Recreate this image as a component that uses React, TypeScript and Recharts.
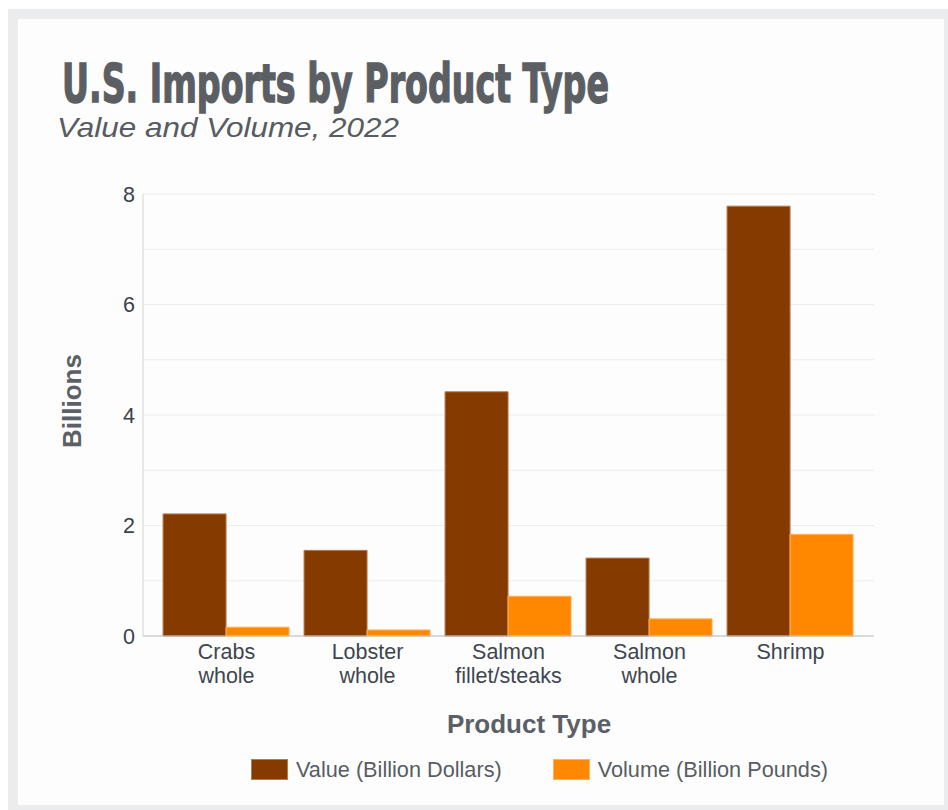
import React from 'react'
import {
  BarChart,
  Bar,
  XAxis,
  YAxis,
  CartesianGrid,
  Legend,
  Label,
} from 'recharts'

// product categories, in chart order
const categories = ['Crabs whole', 'Lobster whole', 'Salmon fillet/steaks', 'Salmon whole', 'Shrimp']
// value of imports, billion dollars
const valueBillions = [2.21, 1.55, 4.42, 1.41, 7.78]
// volume of imports, billion pounds
const volumeBillions = [0.16, 0.11, 0.72, 0.31, 1.84]
const yTicks = [0, 1, 2, 3, 4, 5, 6, 7, 8]

const seriesNames = ['Value (Billion Dollars)', 'Volume (Billion Pounds)']
const seriesColors = ['#853a00', '#ff8800']
const seriesStrokes = ['#b77a4f', '#ffb25e']

const data = categories.map((name, i) => ({
  name,
  value: valueBillions[i],
  volume: volumeBillions[i],
}))

const FONT = '"Liberation Sans", Arial, Helvetica, sans-serif'

// two-line category labels: first word, then the rest
const CategoryTick = ({ x, y, payload }: any) => {
  const words = String(payload.value).split(' ')
  const lines = words.length > 1 ? [words[0], words.slice(1).join(' ')] : words
  return (
    <text x={x} y={y} textAnchor="middle" fontFamily={FONT} fontSize={21.5} fill="#3d4650">
      {lines.map((line, i) => (
        <tspan key={i} x={x} dy={i === 0 ? 15 : 24}>
          {line}
        </tspan>
      ))}
    </text>
  )
}

const CustomLegend = ({ payload }: any) => (
  <div style={{ display: 'flex', alignItems: 'center', fontFamily: FONT, whiteSpace: 'nowrap' }}>
    {(payload || []).map((entry: any, i: number) => (
      <div
        key={`legend-${i}`}
        style={{ display: 'flex', alignItems: 'center', marginRight: i === 0 ? 51 : 0 }}
      >
        <div
          style={{
            width: 37,
            height: 21,
            backgroundColor: entry.color,
            boxSizing: 'border-box',
            border: `1px solid ${seriesStrokes[i]}`,
            marginRight: 8,
          }}
        />
        <span style={{ fontSize: 21.7, color: '#575d63', lineHeight: '21px' }}>{entry.value}</span>
      </div>
    ))}
  </div>
)

export default function App() {
  return (
    <div style={{ position: 'fixed', left: 0, top: 0, width: 948, height: 810, overflow: 'hidden', background: '#fff' }}>
      {/* card frame */}
      <div
        style={{
          position: 'absolute',
          left: 8,
          top: 9,
          width: 946,
          height: 806,
          border: '10px solid #ebecee',
          boxSizing: 'border-box',
          background: '#fdfdfd',
        }}
      />

      {/* title + subtitle */}
      <svg width={948} height={150} style={{ position: 'absolute', left: 0, top: 0 }}>
        <text
          x={62}
          y={102}
          fontFamily='"DejaVu Sans Condensed", "DejaVu Sans", sans-serif'
          fontWeight="bold"
          fontSize={53}
          fill="#5b5f64"
          stroke="#5b5f64"
          strokeWidth={1.4}
          textLength={547}
          lengthAdjust="spacingAndGlyphs"
        >
          U.S. Imports by Product Type
        </text>
        <text
          x={57}
          y={137}
          fontFamily={FONT}
          fontStyle="italic"
          fontSize={28}
          fill="#575c62"
          textLength={342}
          lengthAdjust="spacingAndGlyphs"
        >
          Value and Volume, 2022
        </text>
      </svg>

      <div style={{ position: 'absolute', left: 0, top: 0 }}>
        <BarChart
          width={948}
          height={810}
          data={data}
          margin={{ top: 194, right: 74, left: 0, bottom: 0 }}
          barCategoryGap="5%"
          barGap={0}
        >
          <CartesianGrid vertical={false} stroke="#ececec" />
          <XAxis
            dataKey="name"
            height={174}
            padding={{ left: 13, right: 13 }}
            tickLine={false}
            tickSize={0}
            tickMargin={8}
            axisLine={{ stroke: '#bdbdbd' }}
            tick={<CategoryTick />}
            interval={0}
          >
            <Label
              content={({ viewBox }: any) => (
                <text
                  x={viewBox.x + viewBox.width / 2 + 20.5}
                  y={viewBox.y + 97}
                  textAnchor="middle"
                  fontFamily={FONT}
                  fontWeight="bold"
                  fontSize={26}
                  fill="#5b6066"
                >
                  Product Type
                </text>
              )}
            />
          </XAxis>
          <YAxis
            width={143}
            domain={[0, 8]}
            ticks={yTicks}
            interval={0}
            tickFormatter={(v: number) => (v % 2 === 0 ? String(v) : '')}
            tickLine={false}
            tickSize={0}
            tickMargin={8}
            axisLine={{ stroke: '#d4d4d4' }}
            tick={{ fontFamily: FONT, fontSize: 21.5, fill: '#3a424b' }}
          >
            <Label
              content={({ viewBox }: any) => {
                const cx = 72
                const cy = viewBox.y + viewBox.height / 2 - 14
                return (
                  <text
                    x={cx}
                    y={cy}
                    transform={`rotate(-90, ${cx}, ${cy})`}
                    textAnchor="middle"
                    dominantBaseline="central"
                    fontFamily={FONT}
                    fontWeight="bold"
                    fontSize={26}
                    fill="#5b6066"
                  >
                    Billions
                  </text>
                )
              }}
            />
          </YAxis>
          <Legend
            layout="horizontal"
            verticalAlign="middle"
            align="center"
            content={<CustomLegend />}
            wrapperStyle={{ position: 'absolute', top: 759, left: 251, width: 'auto' }}
          />
          <Bar
            dataKey="value"
            name={seriesNames[0]}
            fill={seriesColors[0]}
            stroke={seriesStrokes[0]}
            strokeWidth={1}
            isAnimationActive={false}
          />
          <Bar
            dataKey="volume"
            name={seriesNames[1]}
            fill={seriesColors[1]}
            stroke={seriesStrokes[1]}
            strokeWidth={1}
            isAnimationActive={false}
          />
        </BarChart>
      </div>
    </div>
  )
}
